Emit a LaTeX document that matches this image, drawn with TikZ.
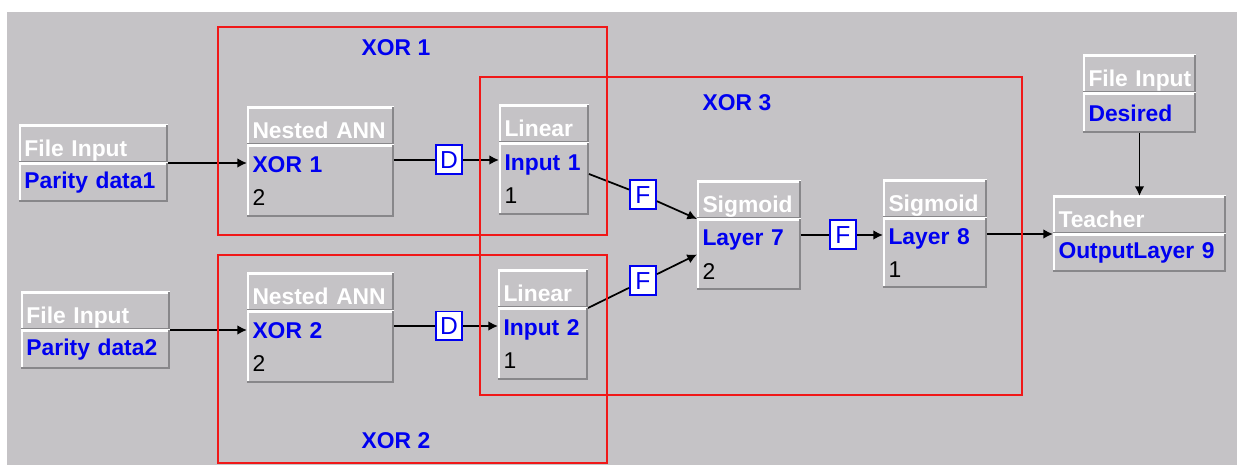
\documentclass[tikz,border=0pt]{standalone}
\usepackage{fontspec}
\setmainfont{Liberation Sans}
\usepackage{xcolor}
\usepackage{tikz}
\usetikzlibrary{arrows.meta,positioning,calc}
\definecolor{panelGray}{HTML}{C5C3C6}
\definecolor{bevelDark}{HTML}{88878A}
\definecolor{annBlue}{HTML}{0000F0}
\definecolor{groupRed}{HTML}{F01818}
\newcommand{\netname}[1]{\textcolor{annBlue}{\bfseries #1}}

\begin{document}
\begin{tikzpicture}[
    x=0.02cm, y=-0.02cm,
    >={Latex[length=5.5pt,width=5.5pt]},
    every node/.style={font=\fontsize{13}{19}\selectfont},
    panel/.style={rectangle,fill=panelGray,inner xsep=0.11cm,inner ysep=0pt,outer sep=0pt,
                  align=left,anchor=north west,
                  path picture={
                    \draw[white,line width=0.08cm] (path picture bounding box.south west)
                        |- (path picture bounding box.north east);
                    \draw[bevelDark,line width=0.08cm] (path picture bounding box.south west)
                        -| (path picture bounding box.north east);}},
    head/.style={panel,minimum height=0.76cm,text height=0.5cm,text depth=0pt,
                 text=white,font=\fontsize{13}{19}\selectfont\bfseries},
    body/.style={panel,minimum height=#1},
    body/.default=0.78cm,
    tag/.style={draw=annBlue,fill=white,line width=0.04cm,text=annBlue,inner sep=0pt,
                minimum width=0.52cm,minimum height=0.58cm,font=\fontsize{14}{16}\selectfont},
    group/.style={draw=groupRed,line width=0.04cm},
    grouplab/.style={text=annBlue,font=\fontsize{13}{19}\selectfont\bfseries},
    wire/.style={line width=0.035cm},
    arr/.style={->,line width=0.035cm}
  ]
  \useasboundingbox (0,0) rectangle (1237,465);
  \fill[white] (0,0) rectangle (1237,465);
  \fill[panelGray] (7,12) rectangle (1237,465);
  %% Inputs on the left
  \node[head,text width=2.76cm] (fi1h) at (19,125) {File Input};
  \node[body,text width=2.76cm,below=0pt of fi1h] (fi1b) {\netname{Parity data1}};
  \node[head,text width=2.76cm] (fi2h) at (21,292) {File Input};
  \node[body,text width=2.76cm,below=0pt of fi2h] (fi2b) {\netname{Parity data2}};
  %% Nested networks
  \node[head,text width=2.72cm] (nn1h) at (247,107) {Nested ANN};
  \node[body=1.44cm,text width=2.72cm,below=0pt of nn1h] (nn1b) {\netname{XOR 1}\\2};
  \node[head,text width=2.72cm] (nn2h) at (247,273) {Nested ANN};
  \node[body=1.44cm,text width=2.72cm,below=0pt of nn2h] (nn2b) {\netname{XOR 2}\\2};
  %% XOR 3 layers
  \node[head,text width=1.58cm] (lin1h) at (499,105) {Linear};
  \node[body=1.44cm,text width=1.58cm,below=0pt of lin1h] (lin1b) {\netname{Input 1}\\1};
  \node[head,text width=1.58cm] (lin2h) at (498,270) {Linear};
  \node[body=1.44cm,text width=1.58cm,below=0pt of lin2h] (lin2b) {\netname{Input 2}\\1};
  \node[head,text width=1.86cm] (s7h) at (697,181) {Sigmoid};
  \node[body=1.42cm,text width=1.86cm,below=0pt of s7h] (s7b) {\netname{Layer 7}\\2};
  \node[head,text width=1.86cm] (s8h) at (883,180) {Sigmoid};
  \node[body=1.40cm,text width=1.86cm,below=0pt of s8h] (s8b) {\netname{Layer 8}\\1};
  %% Teacher and desired output
  \node[head,text width=3.24cm] (th) at (1053,196) {Teacher};
  \node[body=0.76cm,text width=3.24cm,below=0pt of th] (tb) {\netname{OutputLayer 9}};
  \node[head,text width=2.04cm] (desh) at (1083,55) {\mbox{File Input}};
  \node[body=0.80cm,text width=2.04cm,below=0pt of desh] (desb) {\netname{Desired}};
  %% Synapse tags
  \node[tag] (d1) at (449,160) {D};
  \node[tag] (d2) at (449,326) {D};
  \node[tag] (f1) at (643,195) {F};
  \node[tag] (f2) at (643,281) {F};
  \node[tag] (f3) at (843,235) {F};
  %% Connections
  \draw[arr]  (fi1b.north east) -- (fi1b.north east -| nn1b.west);
  \draw[arr]  (fi2b.north east) -- (fi2b.north east -| nn2b.west);
  \draw[wire] (nn1b.east |- d1) -- (d1);
  \draw[arr]  (d1) -- (d1 -| lin1b.west);
  \draw[wire] (nn2b.east |- d2) -- (d2);
  \draw[arr]  (d2) -- (d2 -| lin2b.west);
  \draw[wire] ($(lin1b.east)+(0,-5)$) -- (f1);
  \draw[arr]  (f1) -- (s7h.south west);
  \draw[wire] (lin2h.south east) -- (f2);
  \draw[arr]  (f2) -- (s7b.west);
  \draw[wire] (s7b.east |- f3) -- (f3);
  \draw[arr]  (f3) -- (f3 -| s8b.west);
  \draw[arr]  (s8b.east |- tb.north) -- (tb.north west);
  \draw[arr]  (desb.south) -- (desb.south |- th.north);
  %% Network groups
  \draw[group] (218,27) rectangle (607,235);
  \draw[group] (218,255) rectangle (607,463);
  \draw[group] (480,77) rectangle (1022,395);
  \node[grouplab] (g1) at (396,48) {XOR 1};
  \node[grouplab] (g2) at (396,441) {XOR 2};
  \node[grouplab] (g3) at (737,103) {XOR 3};
\end{tikzpicture}
\end{document}
